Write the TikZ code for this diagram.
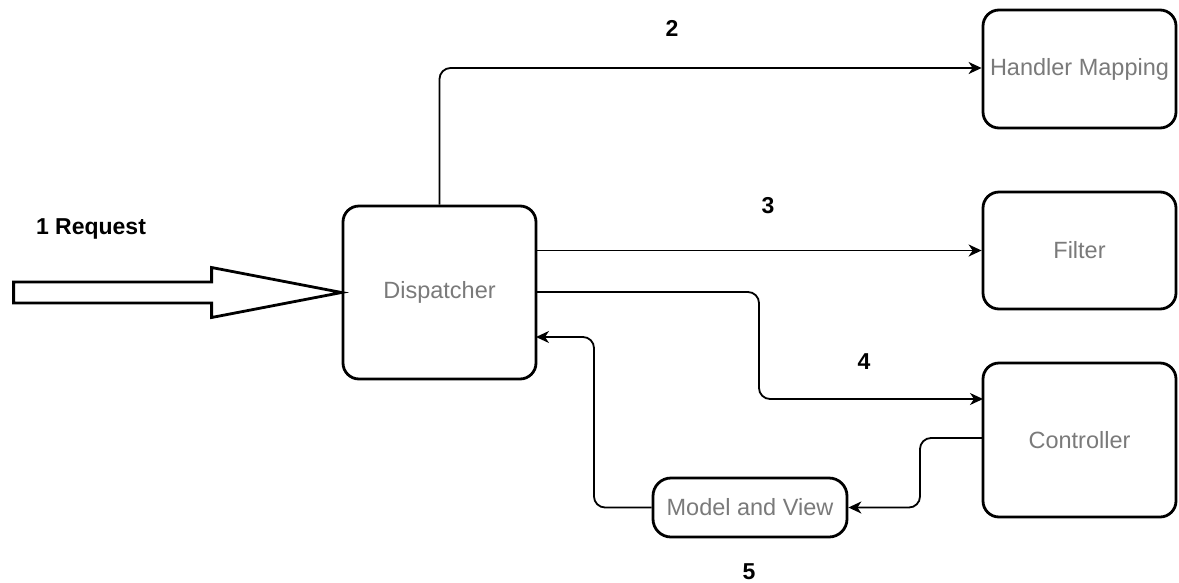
\documentclass[tikz,border=0pt]{standalone}
\usepackage{fontspec}
\setmainfont{Liberation Sans}
\usetikzlibrary{arrows.meta,calc}
\definecolor{labelgray}{RGB}{122,122,122}
\begin{document}
\begin{tikzpicture}[x=1pt,y=-1pt,
  box/.style={draw=black,line width=2.8pt,rounded corners=16pt,fill=white,
    text=labelgray,font=\fontsize{23.5}{28}\selectfont,inner sep=0pt},
  flow/.style={line width=1.8pt,rounded corners=11pt,
    -{Stealth[length=13pt,width=12pt,inset=4pt]}},
  step label/.style={font=\fontsize{23}{28}\selectfont\bfseries,text=black},
]
\useasboundingbox (0,0) rectangle (1179,582);

% boxes
\node[box,minimum width=193pt,minimum height=173pt] (disp) at (439.5,292.5) {Dispatcher};
\node[box,minimum width=193pt,minimum height=118pt] (hm) at (1079.5,69) {Handler Mapping};
\node[box,minimum width=193pt,minimum height=117pt] (filter) at (1079.5,250.5) {Filter};
\node[box,minimum width=193pt,minimum height=154pt] (ctrl) at (1079.5,440) {Controller};
\node[box,minimum width=194pt,minimum height=59pt,rounded corners=18pt] (mv) at (750,507.5) {Model and View};

% incoming request: hollow block arrow ending on the dispatcher
\coordinate (tip) at (disp.west);
\draw[line width=2.8pt,line join=miter,fill=white]
  ($(tip)+(-328,-10.5)$) -- ($(tip)+(-130,-10.5)$) -- ($(tip)+(-130,-25)$)
  -- (tip) -- ($(tip)+(-130,25)$) -- ($(tip)+(-130,10.5)$)
  -- ($(tip)+(-328,10.5)$) -- cycle;

% connectors
\coordinate (c2) at (439.5,68);
\draw[flow] (disp.north) -- (c2) -- (hm.west |- c2);
\draw[flow] (disp.east |- filter.west) -- (filter.west);
\coordinate (d4) at (536,292);
\coordinate (k4) at (759,292);
\coordinate (e4) at (983,399);
\draw[flow] (d4) -- (k4) -- (k4 |- e4) -- (e4);
\coordinate (s5) at (983,438);
\coordinate (k5) at (920,438);
\draw[flow] (s5) -- (k5) -- (k5 |- mv.east) -- (mv.east);
\coordinate (k6) at (594,507.5);
\coordinate (e6) at (536,337);
\draw[flow] (mv.west) -- (k6) -- (k6 |- e6) -- (e6);

% step labels
\node[step label] (l1) at (91,229) {1 Request};
\node[step label] (l2) at (672,28) {2};
\node[step label] (l3) at (768,206) {3};
\node[step label] (l4) at (864,362) {4};
\node[step label,anchor=base] (l5) at (749,579) {5};
\end{tikzpicture}
\end{document}
